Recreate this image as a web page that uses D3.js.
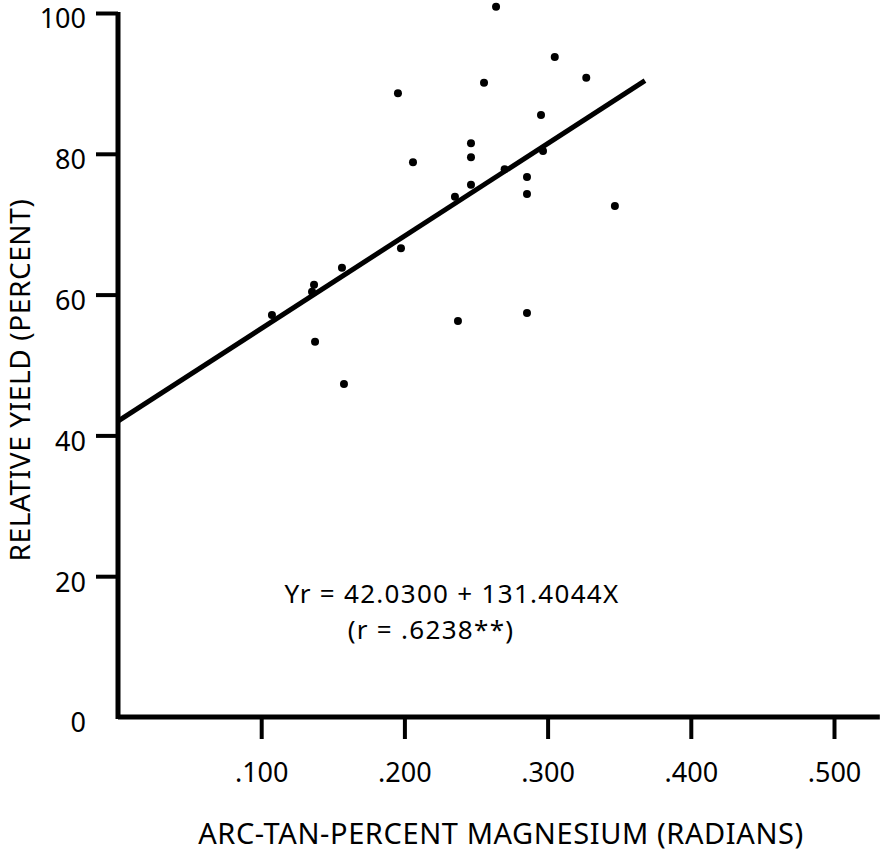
<!DOCTYPE html>
<html>
<head>
<meta charset="utf-8">
<script src="https://cdn.jsdelivr.net/npm/d3@7"></script>
<style>
  body { margin: 0; background: #fff; }
  text { font-family: "Noto Sans", sans-serif; fill: #000; }
</style>
</head>
<body>
<div id="chart"></div>
<script>
// data
var magX = [0.264, 0.1955, 0.2556, 0.305, 0.327, 0.2954, 0.206, 0.2465, 0.2465,
            0.2856, 0.2856, 0.270, 0.2968, 0.2465, 0.2353, 0.347, 0.1976, 0.1564,
            0.1369, 0.1355, 0.1075, 0.1376, 0.1578, 0.2374, 0.2856];
var yieldY = [100.9, 88.6, 90.1, 93.75, 90.8, 85.5, 78.8, 81.5, 79.5,
              76.7, 74.3, 77.8, 80.4, 75.6, 73.9, 72.6, 66.6, 63.8,
              61.4, 60.4, 57.1, 53.3, 47.3, 56.25, 57.4];
var xTicks = [0.1, 0.2, 0.3, 0.4, 0.5];
var yTicks = [0, 20, 40, 60, 80, 100];
var intercept = 42.03, slope = 131.4044;
var lineX = [0, 0.368];

var width = 886, height = 852;

var svg = d3.select("#chart")
  .append("svg")
    .attr("width", width)
    .attr("height", height);

var x = d3.scaleLinear().domain([0, 0.5]).range([118, 834]);
var y = d3.scaleLinear().domain([0, 100]).range([717, 13]);

// x axis
var xAxis = svg.append("g")
    .attr("transform", "translate(0," + y(0) + ")")
    .call(d3.axisBottom(x).tickValues(xTicks)
      .tickSize(22).tickPadding(20)
      .tickFormat(function(d) { return "." + d3.format(".3f")(d).split(".")[1]; }));
xAxis.select(".domain").remove();
xAxis.selectAll(".tick line").attr("stroke", "#000").attr("stroke-width", 4);
xAxis.selectAll(".tick text").attr("font-size", 27).attr("dy", "0.85em");

svg.append("line")
    .attr("x1", x(0)).attr("x2", x(0.532))
    .attr("y1", y(0)).attr("y2", y(0))
    .attr("stroke", "#000").attr("stroke-width", 5);

// y axis
var yAxis = svg.append("g")
    .attr("transform", "translate(" + x(0) + ",0)")
    .call(d3.axisLeft(y).tickValues(yTicks).tickSize(22).tickPadding(10));
yAxis.select(".domain").remove();
yAxis.selectAll(".tick line").attr("stroke", "#000").attr("stroke-width", 4)
    .filter(function(d) { return d === 0; }).remove();
yAxis.selectAll(".tick text").attr("font-size", 27).attr("dy", "0.55em");

svg.append("line")
    .attr("x1", x(0)).attr("x2", x(0))
    .attr("y1", y(100) - 1).attr("y2", y(0) + 2)
    .attr("stroke", "#000").attr("stroke-width", 5);

// regression line
svg.append("path")
    .datum(lineX)
    .attr("d", d3.line()
      .x(function(d) { return x(d); })
      .y(function(d) { return y(intercept + slope * d); }))
    .attr("stroke", "#000")
    .attr("stroke-width", 5)
    .attr("fill", "none");

// points
svg.selectAll("circle")
  .data(magX)
  .enter()
  .append("circle")
    .attr("cx", function(d) { return x(d); })
    .attr("cy", function(d, i) { return y(yieldY[i]); })
    .attr("r", 4)
    .attr("fill", "#000");

// labels
svg.append("text")
    .attr("x", 501).attr("y", 844)
    .attr("text-anchor", "middle")
    .attr("font-size", 29)
    .attr("letter-spacing", 0.6)
    .text("ARC-TAN-PERCENT MAGNESIUM (RADIANS)");

svg.append("text")
    .attr("transform", "translate(30,380) rotate(-90)")
    .attr("text-anchor", "middle")
    .attr("font-size", 28)
    .attr("letter-spacing", 0.6)
    .text("RELATIVE YIELD (PERCENT)");

// equation, two lines
svg.append("text")
    .attr("x", 452).attr("y", 603)
    .attr("text-anchor", "middle")
    .attr("font-size", 26)
    .attr("letter-spacing", 1.3)
    .text("Yr = 42.0300 + 131.4044X");

svg.append("text")
    .attr("x", 431).attr("y", 639)
    .attr("text-anchor", "middle")
    .attr("font-size", 26)
    .attr("letter-spacing", 1.3)
    .text("(r = .6238**)");
</script>
</body>
</html>
